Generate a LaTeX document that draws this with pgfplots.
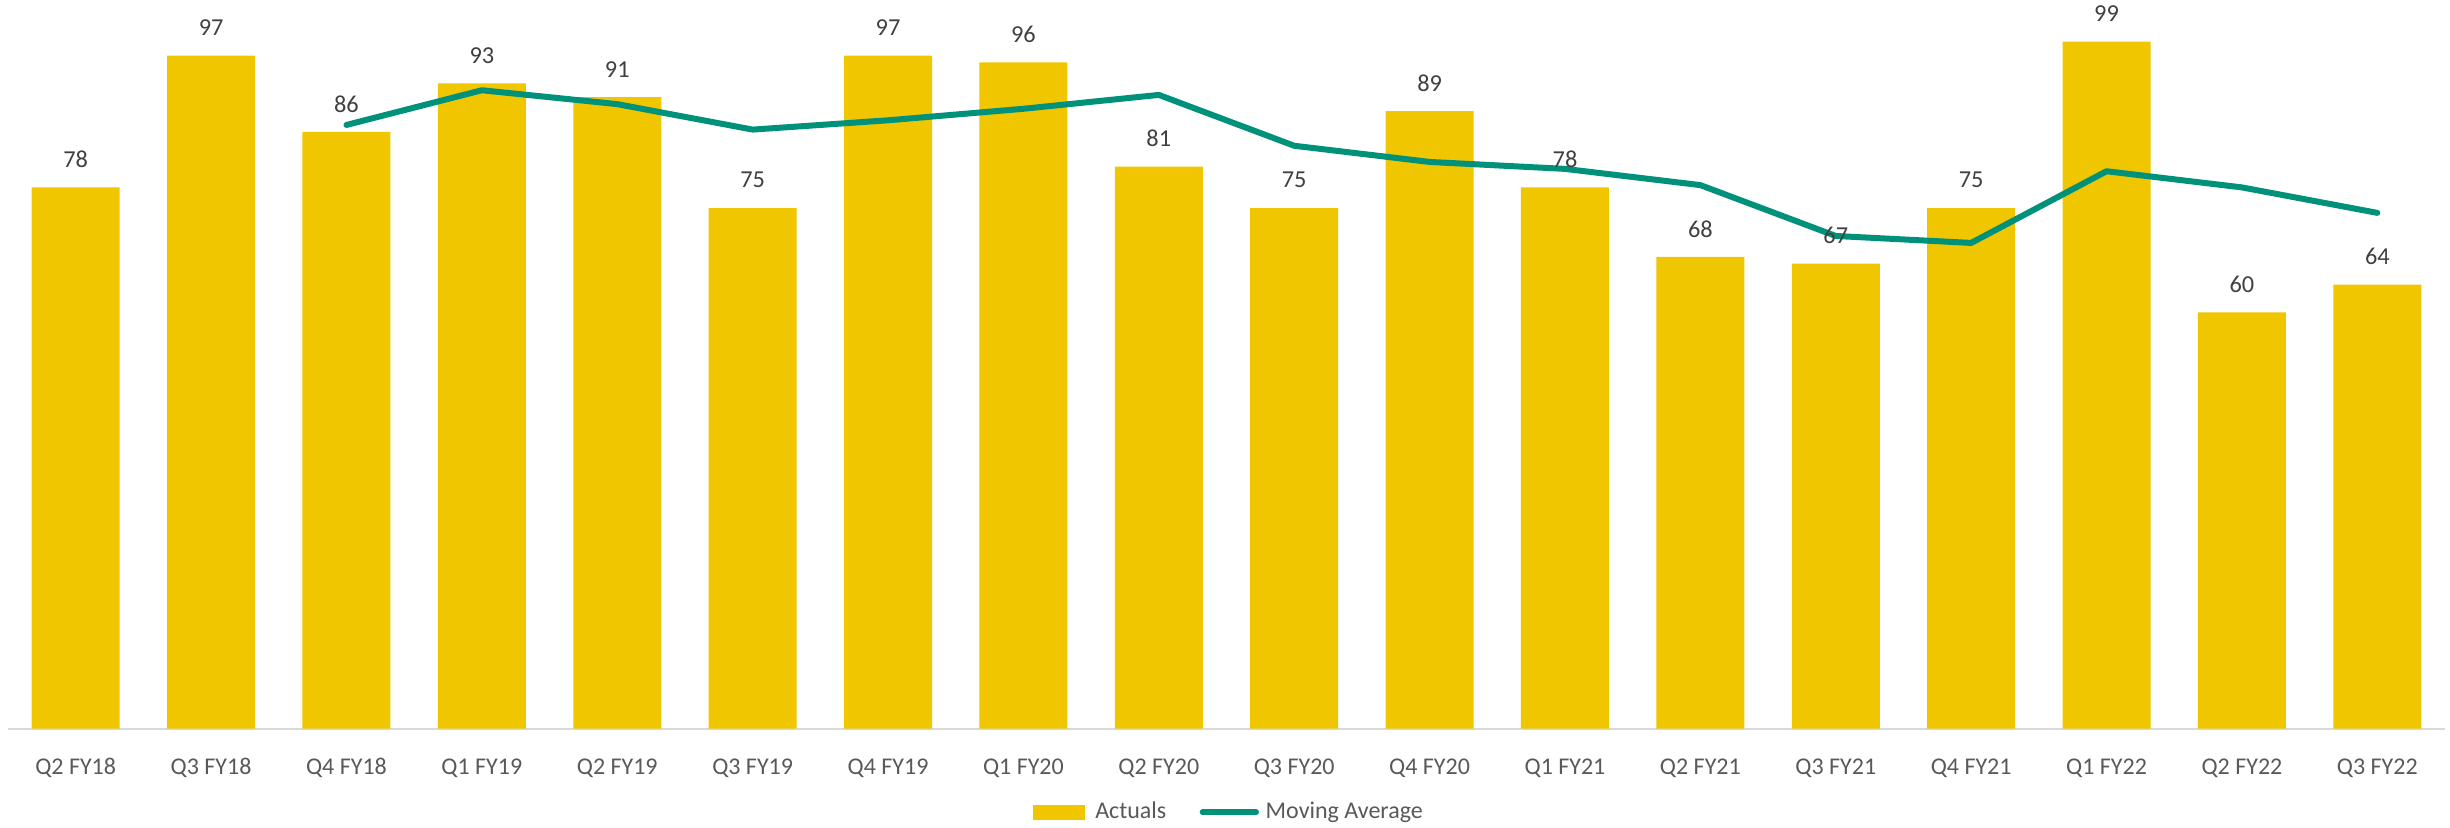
\documentclass[border=0pt]{standalone}
\usepackage{pgfplots}
\pgfplotsset{compat=1.18}
\usepackage{fontspec}
\setmainfont{Carlito}
\definecolor{baryellow}{RGB}{240,198,0}
\definecolor{mateal}{RGB}{0,145,122}
\definecolor{axgray}{RGB}{217,217,217}
\definecolor{ticktext}{RGB}{89,89,89}
\definecolor{labeltext}{RGB}{64,64,64}
\begin{document}
\begin{tikzpicture}
\begin{axis}[
  scale only axis,
  width=731.1pt, height=216.5pt,
  xmin=-0.5, xmax=17.5, ymin=0, ymax=104,
  hide y axis,
  axis x line*=bottom,
  x axis line style={draw=axgray, line width=0.6pt, -},
  xtick={0,...,17},
  xticklabels={Q2 FY18,Q3 FY18,Q4 FY18,Q1 FY19,Q2 FY19,Q3 FY19,Q4 FY19,Q1 FY20,Q2 FY20,Q3 FY20,Q4 FY20,Q1 FY21,Q2 FY21,Q3 FY21,Q4 FY21,Q1 FY22,Q2 FY22,Q3 FY22},
  major tick length=0pt,
  xtick style={draw=none},
  xticklabel style={font=\fontsize{7.2}{8.6}\selectfont, text=ticktext, anchor=base, yshift=-13.7pt},
  /pgf/number format/assume math mode=true,
  clip=false,
  legend columns=2,
  legend style={at={(rel axis cs:0.502,-0.116)}, anchor=center, draw=none, fill=none,
    font=\fontsize{7.2}{8.6}\selectfont, text=ticktext,
    /tikz/every even column/.append style={column sep=8pt},
    /tikz/every odd column/.append style={column sep=0pt}},
]
\addplot[fill=baryellow, draw=none, ybar, bar width=26.4pt,
  nodes near coords,
  every node near coord/.append style={font=\fontsize{7.3}{8.6}\selectfont, text=labeltext, anchor=center, yshift=8.4pt},
  legend image code/.code={\fill[baryellow] (0pt,-2.25pt) rectangle (15.6pt,2.25pt); \path (16.6pt,0pt);}]
coordinates {
(0,78) (1,97) (2,86) (3,93) (4,91) (5,75) (6,97) (7,96) (8,81)
(9,75) (10,89) (11,78) (12,68) (13,67) (14,75) (15,99) (16,60) (17,64)
};
\addlegendentry{Actuals}
\addplot[mateal, line width=1.8pt, line cap=round, line join=round, mark=none,
  legend image code/.code={\draw[mateal, line width=1.8pt, line cap=round] (0pt,0pt) -- (16pt,0pt);}]
coordinates {
(2,87) (3,92) (4,90) (5,86.33) (6,87.67) (7,89.33) (8,91.33) (9,84)
(10,81.67) (11,80.67) (12,78.33) (13,71) (14,70) (15,80.33) (16,78) (17,74.33)
};
\addlegendentry{Moving Average}
\coordinate (bl) at (rel axis cs:0,0);
\coordinate (tr) at (rel axis cs:1,1);
\end{axis}
\pgfresetboundingbox
\path[use as bounding box] ([xshift=-2.4pt,yshift=-29.7pt]bl) rectangle ([xshift=1.5pt,yshift=2.1pt]tr);
\end{tikzpicture}
\end{document}
